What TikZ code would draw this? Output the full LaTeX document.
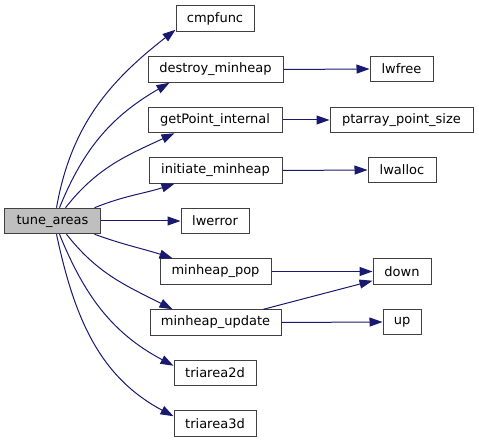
\documentclass[tikz,border=0pt]{standalone}
\usepackage{fontspec}
\setmainfont{DejaVu Sans}
\usetikzlibrary{arrows.meta}
\definecolor{edgeblue}{HTML}{191970}
\definecolor{rootgray}{HTML}{BFBFBF}
\tikzset{every picture/.style={line width=1bp}}
\tikzset{
	fn/.style={draw=black!75,rectangle,fill=white,minimum height=25.5bp,inner sep=0pt,font=\fontsize{13bp}{15bp}\selectfont},
	call/.style={->,draw=edgeblue}
}
\begin{document}
\begin{tikzpicture}[>={Triangle[length=13bp,width=9bp]},x=1bp,y=1bp]
	\useasboundingbox (0,0) rectangle (479,443);
	%Ham goc
	\node[fn,fill=rootgray,minimum width=95bp] (tune) at (52.5,222) {tune\_areas};
	%Cot 2
	\node[fn,minimum width=78bp] (cmpfunc) at (215,424.5) {cmpfunc};
	\node[fn,minimum width=135bp] (destroy) at (215.5,373.5) {destroy\_minheap};
	\node[fn,minimum width=134bp] (getpoint) at (215,323) {getPoint\_internal};
	\node[fn,minimum width=133bp] (initiate) at (215.5,272.5) {initiate\_minheap};
	\node[fn,minimum width=68bp] (lwerror) at (215,222) {lwerror};
	\node[fn,minimum width=111bp] (pop) at (215.5,171.5) {minheap\_pop};
	\node[fn,minimum width=131bp] (update) at (215.5,120.5) {minheap\_update};
	\node[fn,minimum width=82bp] (tri2) at (215,70) {triarea2d};
	\node[fn,minimum width=82bp] (tri3) at (215,19.5) {triarea3d};
	%Cot 3
	\node[fn,minimum width=63bp] (lwfree) at (401.5,374) {lwfree};
	\node[fn,minimum width=143bp] (ptsize) at (401.5,323) {ptarray\_point\_size};
	\node[fn,minimum width=68bp] (lwalloc) at (402,273) {lwalloc};
	\node[fn,minimum width=58bp] (down) at (402,171.5) {down};
	\node[fn,minimum width=38bp] (up) at (402,121) {up};
	%Mui ten tu tune_areas
	\draw[call] ([xshift=52bp]tune.north west) to[out=80,in=218] ([yshift=2bp]cmpfunc.south west);
	\draw[call] ([xshift=55bp]tune.north west) to[out=68,in=210] ([xshift=22bp]destroy.south west);
	\draw[call] ([xshift=61bp]tune.north west) to[out=52,in=205] ([xshift=27bp]getpoint.south west);
	\draw[call] ([xshift=90bp]tune.north west) to[out=22,in=198] ([xshift=26bp]initiate.south west);
	\draw[call] (tune.east) -- (lwerror.west);
	\draw[call] ([xshift=90bp]tune.south west) to[out=-20,in=162] ([xshift=13bp]pop.north west);
	\draw[call] ([xshift=62bp]tune.south west) to[out=-52,in=153] ([xshift=23bp]update.north west);
	\draw[call] ([xshift=55bp]tune.south west) to[out=-68,in=152] ([yshift=-6bp]tri2.north west);
	\draw[call] ([xshift=52bp]tune.south west) to[out=-78,in=152] ([yshift=-6bp]tri3.north west);
	%Mui ten cot 2 sang cot 3
	\draw[call] (destroy.east) -- (lwfree.west);
	\draw[call] (getpoint.east) -- (ptsize.west);
	\draw[call] (initiate.east) -- (lwalloc.west);
	\draw[call] (pop.east) -- (down.west);
	\draw[call] ([xshift=-18bp]update.north east) -- ([yshift=4bp]down.south west);
	\draw[call] (update.east) -- (up.west);
\end{tikzpicture}
\end{document}
